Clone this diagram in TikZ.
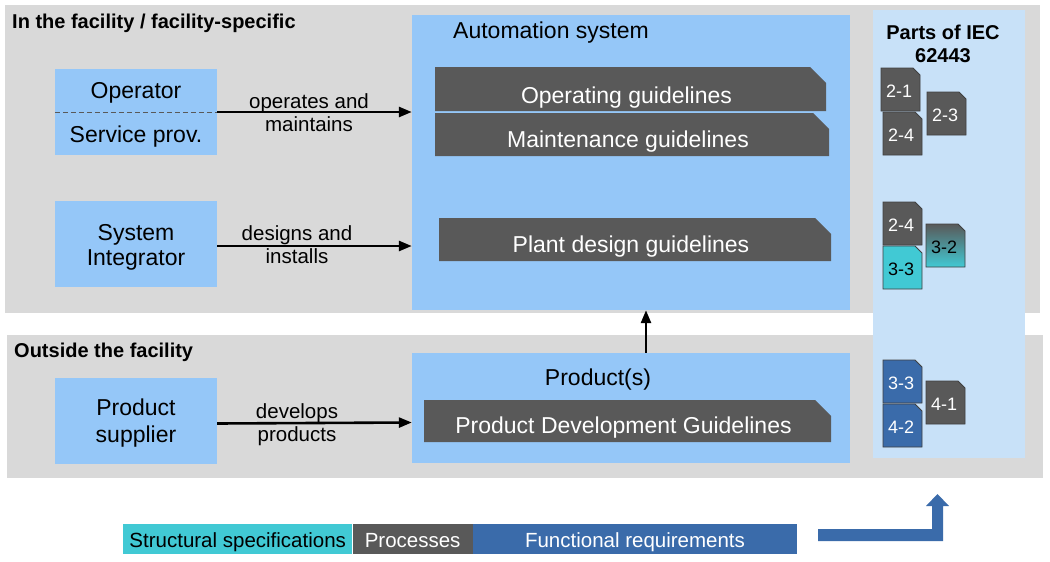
\documentclass[tikz,border=0pt]{standalone}
\usepackage{fontspec}
\setmainfont{Liberation Sans}
\usetikzlibrary{arrows.meta,calc}
\definecolor{panel}{HTML}{D9D9D9}
\definecolor{lblue}{HTML}{95C7F8}
\definecolor{colblue}{HTML}{C8E1F8}
\definecolor{dgray}{HTML}{595959}
\definecolor{tcyan}{HTML}{41C9D4}
\definecolor{dblue}{HTML}{3A6BAA}
\newcommand\guideshape[7]{%
  \fill[dgray] (#2,#3) -- (#4-16,#3) -- (#4,#3+16) -- (#4,#5) -- (#2,#5) -- cycle;
  \node[guidetext] (#1) at ({(#2+#4)/2-4},{#3+#6}) {#7};}
\newcommand\tileshape[6]{%
  \filldraw[#4, draw=black!75, line width=0.8pt] (#2,#3) -- (#2+32,#3) -- (#2+39,#3+7) -- (#2+39,#3+43) -- (#2,#3+43) -- cycle;
  \node[tiletext, text=#5] (#1) at ({#2+18},{#3+29}) {#6};}
\begin{document}
\begin{tikzpicture}[x=1pt,y=-1pt,
  bluebox/.style={fill=lblue, inner sep=0pt},
  actor/.style={fill=lblue, inner sep=0pt, minimum width=162pt, minimum height=86pt},
  big/.style={inner sep=0pt, anchor=base, font=\fontsize{23}{27}\selectfont},
  lbl/.style={inner sep=0pt, anchor=base, font=\fontsize{20.5}{24}\selectfont},
  title/.style={inner sep=0pt, anchor=base west, font=\fontsize{20}{24}\selectfont\bfseries},
  guidetext/.style={inner sep=0pt, anchor=base, text=white, font=\fontsize{23}{27}\selectfont},
  tiletext/.style={inner sep=0pt, anchor=base, font=\fontsize{18}{22}\selectfont},
  legend/.style={inner sep=0pt, minimum height=30pt, text depth=3pt, text height=19pt, font=\fontsize{20.5}{24}\selectfont},
  arr/.style={line width=2.6pt, -{Triangle[length=13pt,width=10pt]}}]
\useasboundingbox (0,0) rectangle (1050,562);
% panels
\fill[panel] (5,5) rectangle (1040,313);
\fill[panel] (7,335) rectangle (1043,478);
\fill[colblue] (873,10) rectangle (1025,458);
\node[title] (t1) at (12,28) {In the facility / facility-specific};
\node[title] (t2) at (14,357) {Outside the facility};
\node[title, anchor=base] (parts1) at (943,39) {Parts of IEC};
\node[title, anchor=base] (parts2) at (943,62) {62443};
% main boxes
\node[bluebox, minimum width=438pt, minimum height=295pt] (auto) at (631,162.5) {};
\node[big] (autot) at (551,38) {Automation system};
\node[bluebox, minimum width=438pt, minimum height=110pt] (prod) at (631,408) {};
\node[big] (prodt) at (598,385) {Product(s)};
% actors
\node[actor] (op) at (136,112) {};
\node[big] (opt) at (136,98) {Operator};
\node[big] (svt) at (136,142) {Service prov.};
\draw[black!65, line width=1pt, dash pattern=on 5pt off 3pt] (op.west) -- (op.east);
\node[actor] (si) at (136,244) {};
\node[big] (si1) at (136,240) {System};
\node[big] (si2) at (136,265) {Integrator};
\node[actor] (ps) at (136,420.5) {};
\node[big] (ps1) at (136,415) {Product};
\node[big] (ps2) at (136,442) {supplier};
% guidelines
\guideshape{og}{435}{67}{826}{111}{36}{Operating guidelines}
\guideshape{mg}{435}{113}{829}{156}{34}{Maintenance guidelines}
\guideshape{pg}{439}{218}{831}{261}{34}{Plant design guidelines}
\guideshape{pdg}{424}{400}{831}{442}{33}{Product Development Guidelines}
% arrows
\draw[arr] (op.east) -- (op.east -| auto.west);
\node[lbl] (l1a) at (309,108) {operates and};
\node[lbl] (l1b) at (309,131) {maintains};
\draw[arr] ($(si.east)+(0,2)$) -- ($(si.east -| auto.west)+(0,2)$);
\node[lbl] (l2a) at (297,240) {designs and};
\node[lbl] (l2b) at (297,263) {installs};
\draw[arr] ($(ps.east)+(0,3)$) -- ($(ps.east -| prod.west)+(0,2)$);
\node[lbl] (l3a) at (297,418) {develops};
\node[lbl] (l3b) at (297,441) {products};
\coordinate (upx) at (646,0);
\draw[arr] (prod.north -| upx) -- (auto.south -| upx);
% tiles
\tileshape{a21}{881}{68}{dgray}{white}{2-1}
\tileshape{a24}{883}{112}{dgray}{white}{2-4}
\tileshape{a23}{927}{92}{dgray}{white}{2-3}
\tileshape{b24}{883}{202}{dgray}{white}{2-4}
\tileshape{b33}{883}{246}{tcyan}{black}{3-3}
\shadedraw[top color=dgray, bottom color=tcyan, draw=black!75, line width=0.8pt] (926,224) -- (958,224) -- (965,231) -- (965,267) -- (926,267) -- cycle;
\node[tiletext] (b32) at (944,253) {3-2};
\tileshape{c33}{883}{360}{dblue}{white}{3-3}
\tileshape{c42}{883}{404}{dblue}{white}{4-2}
\tileshape{c41}{926}{381}{dgray}{white}{4-1}
% legend
\node[legend, fill=tcyan, minimum width=229pt, anchor=north west] (lg1) at (123,524) {Structural specifications};
\node[legend, fill=dgray, text=white, minimum width=120pt, anchor=north west] (lg2) at (lg1.north east) {Processes};
\node[legend, fill=dblue, text=white, minimum width=324pt, anchor=north west] (lg3) at (lg2.north east) {Functional requirements};
% bent arrow
\fill[dblue] (818,529) -- (932,529) -- (932,506) -- (926,506) -- (937.5,494) -- (949,506) -- (943,506) -- (943,541) -- (818,541) -- cycle;
\end{tikzpicture}
\end{document}
